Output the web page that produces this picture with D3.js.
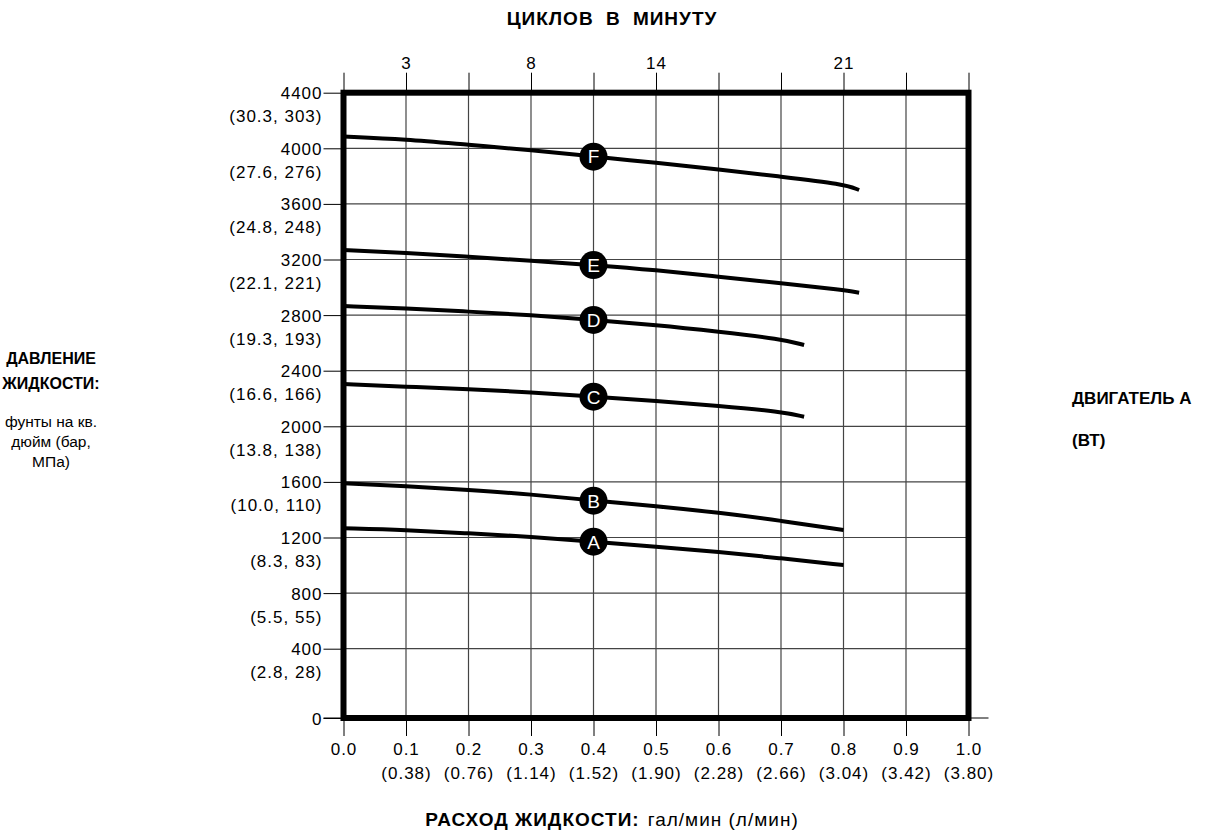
<!DOCTYPE html>
<html>
<head>
<meta charset="utf-8">
<script src="https://cdn.jsdelivr.net/npm/d3@7"></script>
<style>
  body { margin: 0; background: #fff; }
  svg { font-family: "Liberation Sans", Arial, sans-serif; }
  .tick text { font-size: 17px; letter-spacing: 1px; fill: #000; }
  .bold { font-weight: bold; }
</style>
</head>
<body>
<div id="chart"></div>
<script>
// flow, gal/min
const flowTicks = [0, 0.1, 0.2, 0.3, 0.4, 0.5, 0.6, 0.7, 0.8, 0.9, 1.0];
const flowLpm = ["", "(0.38)", "(0.76)", "(1.14)", "(1.52)", "(1.90)", "(2.28)", "(2.66)", "(3.04)", "(3.42)", "(3.80)"];

// cycles per minute shown on the top axis
const cycleAt = [0.1, 0.3, 0.5, 0.8];
const cycleLabels = ["3", "8", "14", "21"];

// pressure, psi (bar, MPa)
const psiTicks = [0, 400, 800, 1200, 1600, 2000, 2400, 2800, 3200, 3600, 4000, 4400];
const psiMetric = ["", "(2.8, 28)", "(5.5, 55)", "(8.3, 83)", "(10.0, 110)", "(13.8, 138)", "(16.6, 166)",
  "(19.3, 193)", "(22.1, 221)", "(24.8, 248)", "(27.6, 276)", "(30.3, 303)"];

// curves
const flowA = [0, 0.1, 0.2, 0.3, 0.4, 0.5, 0.6, 0.7, 0.8];
const psiA = [1266, 1254, 1230, 1206, 1170, 1134, 1098, 1050, 1002];
const flowB = [0, 0.1, 0.2, 0.3, 0.4, 0.5, 0.6, 0.7, 0.8];
const psiB = [1590, 1571, 1542, 1511, 1465, 1427, 1379, 1321, 1254];
const flowC = [0, 0.1, 0.2, 0.3, 0.4, 0.5, 0.6, 0.7, 0.737];
const psiC = [2304, 2285, 2268, 2245, 2213, 2182, 2148, 2105, 2069];
const flowD = [0, 0.1, 0.2, 0.3, 0.4, 0.5, 0.6, 0.7, 0.737];
const psiD = [2865, 2849, 2825, 2801, 2765, 2729, 2681, 2628, 2585];
const flowE = [0, 0.1, 0.2, 0.3, 0.4, 0.5, 0.6, 0.7, 0.8, 0.825];
const psiE = [3268, 3249, 3220, 3191, 3160, 3124, 3076, 3029, 2981, 2961];
const flowF = [0, 0.1, 0.2, 0.3, 0.4, 0.5, 0.6, 0.7, 0.8, 0.825];
const psiF = [4085, 4065, 4024, 3988, 3940, 3896, 3849, 3796, 3743, 3700];

const curveNames = ["A", "B", "C", "D", "E", "F"];
const curveFlows = [flowA, flowB, flowC, flowD, flowE, flowF];
const curvePsi = [psiA, psiB, psiC, psiD, psiE, psiF];
const markerFlow = 0.4;

const width = 1226;
const height = 834;

const svg = d3.select("#chart")
  .append("svg")
  .attr("width", width)
  .attr("height", height);

const x = d3.scaleLinear().domain([0, 1]).range([343.5, 968.5]);
// bottom step (0 -> 400) is drawn taller than the rest
const y = d3.scaleLinear().domain([0, 400, 4400]).range([718, 648.7, 92.7]);

// grid
const grid = svg.append("g").attr("stroke", "#444").attr("stroke-width", 1.2);
grid.selectAll("line.v")
  .data(flowTicks.slice(1, -1))
  .join("line")
  .attr("class", "v")
  .attr("x1", (d) => x(d)).attr("x2", (d) => x(d))
  .attr("y1", y(4400)).attr("y2", y(0));
grid.selectAll("line.h")
  .data(psiTicks.slice(1, -1))
  .join("line")
  .attr("class", "h")
  .attr("x1", x(0)).attr("x2", x(1))
  .attr("y1", (d) => y(d)).attr("y2", (d) => y(d));

// left axis
const yAxis = svg.append("g")
  .attr("transform", `translate(${x(0)},0)`)
  .call(d3.axisLeft(y).tickValues(psiTicks).tickSize(20).tickPadding(2).tickFormat(""));
yAxis.select(".domain").remove();
yAxis.selectAll(".tick line").attr("stroke", "#000");
yAxis.selectAll(".tick text").each(function (d, i) {
  const t = d3.select(this).attr("dy", null).attr("y", 6);
  t.append("tspan").attr("x", -21).text(d);
  if (psiMetric[i]) t.append("tspan").attr("x", -21).attr("dy", 23).text(psiMetric[i]);
});

// bottom axis
const xAxis = svg.append("g")
  .attr("transform", `translate(0,${y(0)})`)
  .call(d3.axisBottom(x).tickValues(flowTicks).tickSize(18).tickFormat(""));
xAxis.select(".domain").attr("d", `M${x(0) - 20},0H${x(1) + 20}`).attr("stroke", "#000");
xAxis.selectAll(".tick line").attr("stroke", "#000");
xAxis.selectAll(".tick text").each(function (d, i) {
  const t = d3.select(this).attr("dy", null).attr("y", 37);
  t.append("tspan").attr("x", 0).text(d3.format(".1f")(d));
  if (flowLpm[i]) t.append("tspan").attr("x", 0).attr("dy", 24).text(flowLpm[i]);
});

// top axis (cycles)
const topAxis = svg.append("g")
  .attr("transform", `translate(0,${y(4400)})`)
  .call(d3.axisTop(x).tickValues(flowTicks).tickSize(20).tickPadding(4)
    .tickFormat((d) => {
      const k = cycleAt.findIndex((c) => Math.abs(c - d) < 1e-6);
      return k >= 0 ? cycleLabels[k] : "";
    }));
topAxis.select(".domain").remove();
topAxis.selectAll(".tick line").attr("stroke", "#000");

// curves
const line = d3.line()
  .x((d) => x(d[0]))
  .y((d) => y(d[1]))
  .curve(d3.curveBasis);

curveNames.forEach((name, i) => {
  const pts = curveFlows[i].map((f, j) => [f, curvePsi[i][j]]);
  svg.append("path")
    .datum(pts)
    .attr("d", line)
    .attr("fill", "none")
    .attr("stroke", "#000")
    .attr("stroke-width", 4);
});

// frame
svg.append("rect")
  .attr("x", x(0))
  .attr("y", y(4400))
  .attr("width", x(1) - x(0))
  .attr("height", y(0) - y(4400))
  .attr("fill", "none")
  .attr("stroke", "#000")
  .attr("stroke-width", 6);

// curve markers
const markers = svg.append("g")
  .selectAll("g")
  .data(curveNames)
  .join("g")
  .attr("transform", (d, i) => {
    const j = curveFlows[i].indexOf(markerFlow);
    return `translate(${x(markerFlow)},${y(curvePsi[i][j])})`;
  });
markers.append("circle").attr("r", 14).attr("fill", "#000");
markers.append("text")
  .attr("text-anchor", "middle")
  .attr("dy", "0.36em")
  .attr("fill", "#fff")
  .attr("font-size", 19)
  .text((d) => d);

// titles
svg.append("text")
  .attr("class", "bold")
  .attr("x", 612).attr("y", 25)
  .attr("text-anchor", "middle")
  .attr("font-size", 19)
  .attr("letter-spacing", 1)
  .attr("word-spacing", 6)
  .text("ЦИКЛОВ В МИНУТУ");

const xTitle = svg.append("text")
  .attr("x", 612).attr("y", 826)
  .attr("text-anchor", "middle")
  .attr("font-size", 19)
  .attr("letter-spacing", 1);
xTitle.append("tspan").attr("class", "bold").text("РАСХОД ЖИДКОСТИ:");
xTitle.append("tspan").attr("dx", 8).text("гал/мин (л/мин)");

const leftLines = [
  ["ДАВЛЕНИЕ", true, 364],
  ["ЖИДКОСТИ:", true, 389],
  ["фунты на кв.", false, 427],
  ["дюйм (бар,", false, 447],
  ["МПа)", false, 467],
];
svg.append("g")
  .selectAll("text")
  .data(leftLines)
  .join("text")
  .attr("x", 51)
  .attr("y", (d) => d[2])
  .attr("text-anchor", "middle")
  .attr("font-size", (d) => (d[1] ? 16 : 15.5))
  .attr("font-weight", (d) => (d[1] ? "bold" : "normal"))
  .text((d) => d[0]);

const rightLines = [["ДВИГАТЕЛЬ А", 404], ["(ВТ)", 446]];
svg.append("g")
  .selectAll("text")
  .data(rightLines)
  .join("text")
  .attr("class", "bold")
  .attr("x", 1072)
  .attr("y", (d) => d[1])
  .attr("font-size", 17)
  .text((d) => d[0]);
</script>
</body>
</html>
